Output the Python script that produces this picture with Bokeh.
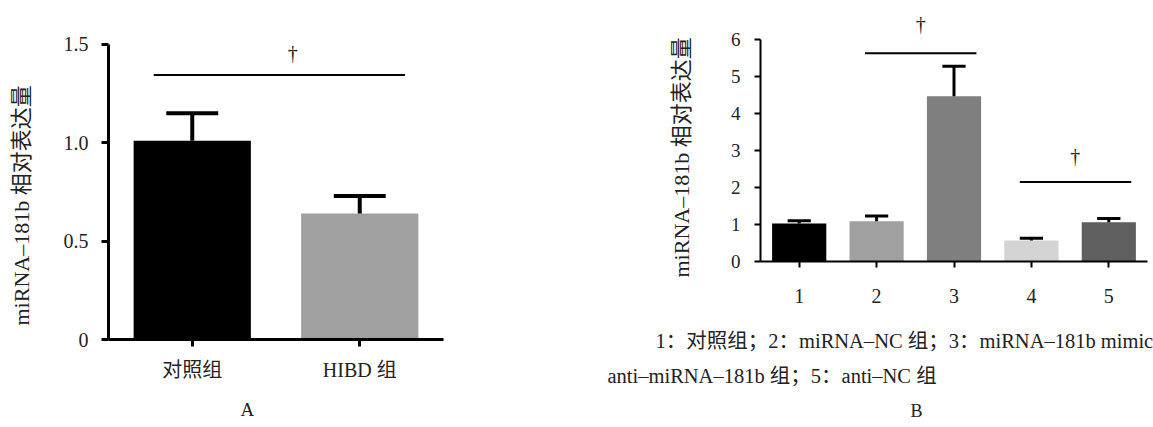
from bokeh.plotting import figure
from bokeh.models import Label, FixedTicker, Title, Range1d
from bokeh.embed import file_html
from bokeh.resources import INLINE

FONT = "'Liberation Serif', 'Noto Sans CJK SC'"
TXT = "#222222"

# ---------------- data: panel A ----------------
a_groups = ["对照组", "HIBD 组"]
a_means = [1.01, 0.64]
a_errs = [0.14, 0.09]
a_colors = ["#000000", "#a0a0a0"]
a_yticks = [0, 0.5, 1.0, 1.5]
a_ytick_labels = ["0", "0.5", "1.0", "1.5"]
a_sig_x0 = [0.77]
a_sig_x1 = [2.27]
a_sig_y = [1.345]

# ---------------- data: panel B ----------------
b_groups = ["1", "2", "3", "4", "5"]
b_means = [1.03, 1.09, 4.47, 0.57, 1.06]
b_errs = [0.07, 0.14, 0.81, 0.06, 0.10]
b_colors = ["#000000", "#a0a0a0", "#7f7f7f", "#d4d4d4", "#5f5f5f"]
b_yticks = [0, 1, 2, 3, 4, 5, 6]
b_sig_x0 = [1.85, 3.85]
b_sig_x1 = [3.29, 5.29]
b_sig_y = [5.63, 2.15]

y_title = "miRNA–181b 相对表达量"
caption1 = "1：对照组；2：miRNA–NC 组；3：miRNA–181b mimic"
caption2 = "anti–miRNA–181b 组；5：anti–NC 组"


def style_axes(p, lw, tick_out, fs):
    p.xgrid.visible = False
    p.ygrid.visible = False
    p.outline_line_color = None
    for ax in (p.xaxis[0], p.yaxis[0]):
        ax.axis_line_width = lw
        ax.axis_line_color = "black"
        ax.major_tick_line_width = lw
        ax.major_tick_line_color = "black"
        ax.major_tick_in = 0
        ax.major_tick_out = tick_out
        ax.minor_tick_line_color = None
        ax.major_label_text_font = FONT
        ax.major_label_text_font_size = fs
        ax.major_label_text_color = TXT


def label(p, x, y, text, size, align="center"):
    p.add_layout(Label(x=x, y=y, text=text, text_font=FONT, text_font_size=size,
                       text_color=TXT, text_align=align, text_baseline="middle"))


def title(p, side, text, size, offset, standoff):
    p.add_layout(Title(text=text, text_font=FONT, text_font_size=size, text_font_style="normal",
                       text_color=TXT, align="left", offset=offset, standoff=standoff), side)


def bars_with_errors(p, means, errs, colors, width, cap, lw):
    xs = list(range(1, len(means) + 1))
    p.vbar(x=xs, top=means, width=width, bottom=0, fill_color=colors, line_color=None)
    tops = [m + e for m, e in zip(means, errs)]
    p.segment(x0=xs, y0=means, x1=xs, y1=tops, line_color="black", line_width=lw)
    p.segment(x0=[x - cap / 2 for x in xs], y0=tops, x1=[x + cap / 2 for x in xs], y1=tops,
              line_color="black", line_width=lw)
    return xs


# ---------------- panel A ----------------
pa = figure(width=590, height=436, x_range=(0.5, 2.5), y_range=(0, 1.571),
            output_backend="svg", toolbar_location=None,
            min_border_left=138, min_border_right=117, min_border_top=30, min_border_bottom=97)
style_axes(pa, 3, 7, "20px")
xa = bars_with_errors(pa, a_means, a_errs, a_colors, 0.7, 0.31, 4)
pa.yaxis.ticker = FixedTicker(ticks=a_yticks)
pa.yaxis.bounds = (a_yticks[0], a_yticks[-1])
pa.yaxis.major_label_overrides = {t: s for t, s in zip(a_yticks, a_ytick_labels)}
pa.yaxis.major_label_standoff = 13
pa.xaxis.ticker = FixedTicker(ticks=xa)
pa.xaxis.major_label_overrides = {x: g for x, g in zip(xa, a_groups)}
pa.xaxis.major_label_standoff = 12
pa.segment(x0=a_sig_x0, y0=a_sig_y, x1=a_sig_x1, y1=a_sig_y, line_color="black", line_width=2)
label(pa, 1.60, 1.457, "†", "20px")
title(pa, "left", y_title, "22px", 14, 53)
title(pa, "below", "A", "19px", 132, 27)

# ---------------- panel B ----------------
pb = figure(width=593, height=312, x_range=(0.5, 5.5), y_range=(0, 6.92),
            output_backend="svg", toolbar_location=None,
            min_border_left=200, min_border_right=6, min_border_top=5, min_border_bottom=51)
style_axes(pb, 2, 6, "19px")
xb = bars_with_errors(pb, b_means, b_errs, b_colors, 0.7, 0.3, 3)
pb.yaxis.ticker = FixedTicker(ticks=b_yticks)
pb.yaxis.bounds = (b_yticks[0], b_yticks[-1])
pb.yaxis.major_label_standoff = 14
pb.xaxis.ticker = FixedTicker(ticks=xb)
pb.xaxis.major_label_overrides = {x: g for x, g in zip(xb, b_groups)}
pb.xaxis.major_label_text_font_size = "20px"
pb.xaxis.major_label_standoff = 21
pb.segment(x0=b_sig_x0, y0=b_sig_y, x1=b_sig_x1, y1=b_sig_y, line_color="black", line_width=2)
label(pb, 2.57, 6.43, "†", "20px")
label(pb, 4.565, 2.86, "†", "20px")
title(pb, "left", y_title, "22px", -16, 68)

# ---------------- caption strip under panel B (pixel-like coordinates, y downward) ----------------
pc = figure(width=593, height=115, x_range=Range1d(0, 593), y_range=Range1d(115, 0),
            output_backend="svg", toolbar_location=None, x_axis_type=None, y_axis_type=None,
            min_border=0)
pc.outline_line_color = None
pc.xgrid.visible = False
pc.ygrid.visible = False
label(pc, 95, 28, caption1, "20.5px", align="left")
label(pc, 47, 63, caption2, "20.5px", align="left")
label(pc, 356, 98, "B", "18px")

TEMPLATE = """
{% block contents %}
{% from macros import embed %}
<style>html, body { overflow: hidden; }</style>
<div style="display:flex;flex-direction:row;align-items:flex-start;margin-left:-30px;">
{% for doc in docs %}{% for root in doc.roots %}
{% if loop.first %}{{ embed(root) }}<div style="display:flex;flex-direction:column;">{% else %}{{ embed(root) }}{% endif %}
{% endfor %}{% endfor %}
</div>
</div>
{% endblock %}
"""

open("out.html", "w").write(file_html([pa, pb, pc], INLINE, template=TEMPLATE))
